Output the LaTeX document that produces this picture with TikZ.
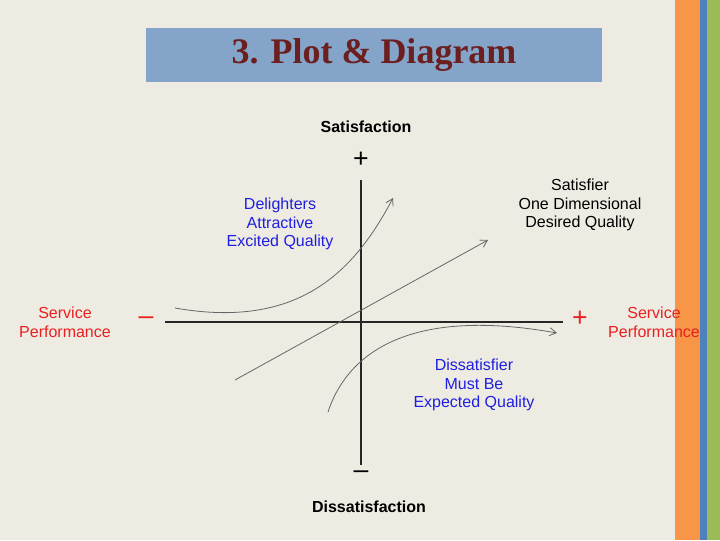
\documentclass[tikz,border=0pt]{standalone}
\usepackage{fontspec}
\setmainfont{Liberation Sans}
\newfontfamily\titlefont{Liberation Serif}
\usetikzlibrary{arrows.meta}
\definecolor{bg}{HTML}{EEEBE2}
\definecolor{tbox}{HTML}{84A5C9}
\definecolor{ttext}{HTML}{6B1F1F}
\definecolor{orng}{HTML}{F79646}
\definecolor{blu}{HTML}{4F81BD}
\definecolor{grn}{HTML}{9BBB59}
\definecolor{lblue}{HTML}{1F1FE0}
\definecolor{lred}{HTML}{E82020}
\tikzset{
 lbl/.style={font=\fontsize{12}{14}\selectfont, align=center},
 sign/.style={font=\fontsize{20}{20}\selectfont},
 axis/.style={draw=black!85, line width=0.8pt},
 curve/.style={draw=black!60, line width=0.6pt, -{Straight Barb[length=5pt,width=6pt]}}
}
\begin{document}
\begin{tikzpicture}[x=0.75pt,y=-0.75pt]
\useasboundingbox (0,0) rectangle (720,540);
\fill[bg] (0,0) rectangle (720,540);
\fill[orng] (675,0) rectangle (700,540);
\fill[blu] (700,0) rectangle (707,540);
\fill[grn] (707,0) rectangle (720,540);
\node[fill=tbox, minimum width=456*0.75pt, minimum height=54*0.75pt, inner sep=0pt] (title) at (374,55)
 {\titlefont\bfseries\color{ttext}\fontsize{27}{27}\selectfont 3. Plot \& Diagram};
\coordinate (vt) at (361,180); \coordinate (vb) at (361,465);
\coordinate (hl) at (165,322); \coordinate (hr) at (563,322);
\draw[axis] (vt) -- (vb);
\draw[axis] (hl) -- (hr);
\node[sign] (ptop) at (361,160) {+};
\node[sign, text=lred] (pright) at (580,319) {+};
\node[sign] (mbot) at (361,475) {\textendash};
\node[sign, text=lred] (mleft) at (146,321) {\textendash};
\node[lbl, font=\fontsize{12}{14}\selectfont\bfseries] (sat) at (366,127) {Satisfaction};
\node[lbl, font=\fontsize{12}{14}\selectfont\bfseries] (dis) at (369,507) {Dissatisfaction};
\node[lbl, text=lred] (spl) at (65,322) {Service\\Performance};
\node[lbl, text=lred] (spr) at (654,322) {Service\\Performance};
\node[lbl, text=lblue] (del) at (280,224) {Delighters\\Attractive\\Excited Quality};
\node[lbl] (sfr) at (580,205) {Satisfier\\One Dimensional\\Desired Quality};
\node[lbl, text=lblue] (dsf) at (474,385) {Dissatisfier\\Must Be\\Expected Quality};
\coordinate (c1s) at (175,308); \coordinate (c1e) at (393,198);
\draw[curve] (c1s) .. controls (300,330) and (355,270) .. (c1e);
\coordinate (c2s) at (235,380); \coordinate (c2e) at (488,240);
\draw[curve] (c2s) -- (c2e);
\coordinate (c3s) at (328,412); \coordinate (c3e) at (557,333);
\draw[curve] (c3s) .. controls (345,360) and (400,305) .. (c3e);
\end{tikzpicture}
\end{document}
